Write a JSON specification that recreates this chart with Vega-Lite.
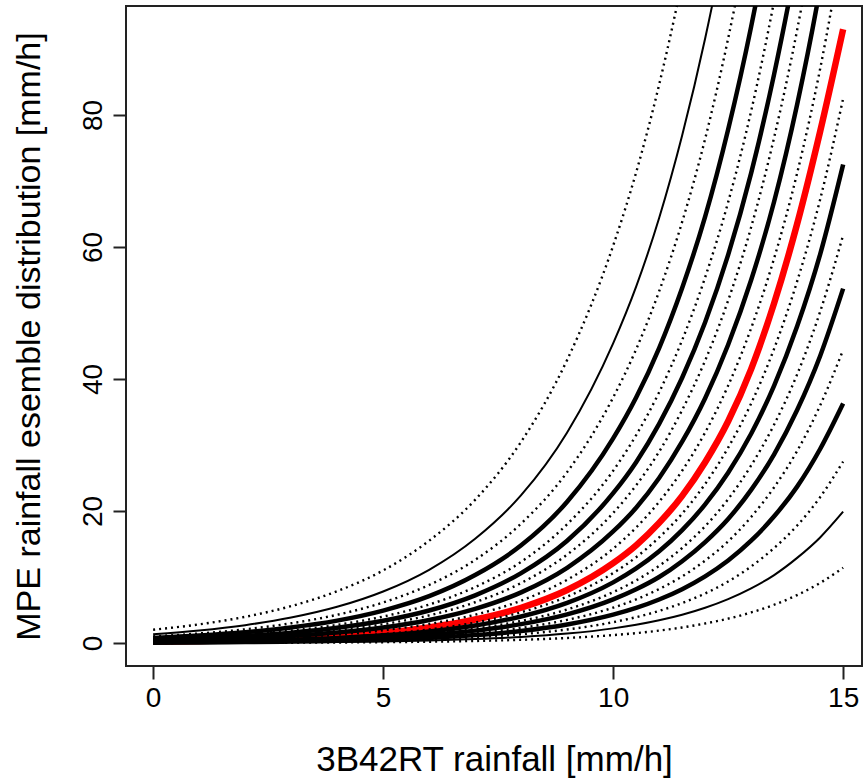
{
  "$schema": "https://vega.github.io/schema/vega-lite/v6.json",
  "width": 736,
  "height": 660,
  "autosize": {"type": "none"},
  "padding": {"left": 126, "top": 6, "right": 2, "bottom": 114},
  "background": "white",
  "config": {"view": {"stroke": "#222", "strokeWidth": 2}, "font": "Liberation Sans"},
  "data": {"values": [
    {"x": 0, "T9": 2.02, "T8": 1.34, "T7": 1.01, "T6": 0.78, "T5": 0.61, "T4": 0.50, "T3": 0.41, "T2": 0.33, "T1": 0.26, "M": 0.20, "B1": 0.175, "B2": 0.148, "B3": 0.120, "B4": 0.100, "B5": 0.078, "B6": 0.060, "B7": 0.042, "B8": 0.028, "B9": 0.013},
    {"x": 1, "T9": 2.83, "T8": 1.91, "T7": 1.45, "T6": 1.13, "T5": 0.89, "T4": 0.73, "T3": 0.61, "T2": 0.49, "T1": 0.39, "M": 0.31, "B1": 0.264, "B2": 0.223, "B3": 0.182, "B4": 0.152, "B5": 0.119, "B6": 0.092, "B7": 0.065, "B8": 0.043, "B9": 0.021},
    {"x": 2, "T9": 3.97, "T8": 2.71, "T7": 2.08, "T6": 1.63, "T5": 1.30, "T4": 1.07, "T3": 0.89, "T2": 0.72, "T1": 0.58, "M": 0.46, "B1": 0.398, "B2": 0.338, "B3": 0.276, "B4": 0.231, "B5": 0.182, "B6": 0.142, "B7": 0.099, "B8": 0.066, "B9": 0.033},
    {"x": 3, "T9": 5.59, "T8": 3.86, "T7": 2.99, "T6": 2.36, "T5": 1.89, "T4": 1.57, "T3": 1.31, "T2": 1.07, "T1": 0.87, "M": 0.70, "B1": 0.600, "B2": 0.510, "B3": 0.419, "B4": 0.352, "B5": 0.278, "B6": 0.217, "B7": 0.153, "B8": 0.103, "B9": 0.051},
    {"x": 4, "T9": 7.85, "T8": 5.49, "T7": 4.28, "T6": 3.40, "T5": 2.75, "T4": 2.30, "T3": 1.93, "T2": 1.59, "T1": 1.29, "M": 1.05, "B1": 0.904, "B2": 0.771, "B3": 0.635, "B4": 0.535, "B5": 0.424, "B6": 0.332, "B7": 0.236, "B8": 0.160, "B9": 0.081},
    {"x": 5, "T9": 11.0, "T8": 7.81, "T7": 6.14, "T6": 4.92, "T5": 4.01, "T4": 3.37, "T3": 2.85, "T2": 2.35, "T1": 1.93, "M": 1.57, "B1": 1.36, "B2": 1.17, "B3": 0.961, "B4": 0.813, "B5": 0.647, "B6": 0.509, "B7": 0.364, "B8": 0.248, "B9": 0.127},
    {"x": 6, "T9": 15.5, "T8": 11.1, "T7": 8.80, "T6": 7.10, "T5": 5.83, "T4": 4.93, "T3": 4.19, "T2": 3.49, "T1": 2.89, "M": 2.37, "B1": 2.05, "B2": 1.76, "B3": 1.46, "B4": 1.24, "B5": 0.988, "B6": 0.780, "B7": 0.561, "B8": 0.385, "B9": 0.199},
    {"x": 7, "T9": 21.7, "T8": 15.8, "T7": 12.6, "T6": 10.3, "T5": 8.48, "T4": 7.23, "T3": 6.18, "T2": 5.18, "T1": 4.30, "M": 3.56, "B1": 3.10, "B2": 2.66, "B3": 2.21, "B4": 1.88, "B5": 1.51, "B6": 1.20, "B7": 0.864, "B8": 0.596, "B9": 0.311},
    {"x": 8, "T9": 30.5, "T8": 22.4, "T7": 18.1, "T6": 14.8, "T5": 12.3, "T4": 10.6, "T3": 9.10, "T2": 7.68, "T1": 6.42, "M": 5.35, "B1": 4.66, "B2": 4.02, "B3": 3.35, "B4": 2.86, "B5": 2.30, "B6": 1.83, "B7": 1.33, "B8": 0.923, "B9": 0.488},
    {"x": 9, "T9": 42.9, "T8": 31.9, "T7": 25.9, "T6": 21.4, "T5": 18.0, "T4": 15.5, "T3": 13.4, "T2": 11.4, "T1": 9.59, "M": 8.04, "B1": 7.03, "B2": 6.08, "B3": 5.08, "B4": 4.34, "B5": 3.51, "B6": 2.81, "B7": 2.05, "B8": 1.43, "B9": 0.766},
    {"x": 10, "T9": 60.2, "T8": 45.4, "T7": 37.2, "T6": 31.0, "T5": 26.1, "T4": 22.7, "T3": 19.7, "T2": 16.9, "T1": 14.3, "M": 12.1, "B1": 10.6, "B2": 9.19, "B3": 7.71, "B4": 6.61, "B5": 5.36, "B6": 4.30, "B7": 3.16, "B8": 2.22, "B9": 1.20},
    {"x": 10.5, "T9": 71.3, "T8": 54.0, "T7": 44.5, "T6": 37.2, "T5": 31.5, "T4": 27.4, "T3": 23.9, "T2": 20.5, "T1": 17.5, "M": 14.8, "B1": 13.0, "B2": 11.3, "B3": 9.49, "B4": 8.14, "B5": 6.62, "B6": 5.32, "B7": 3.92, "B8": 2.77, "B9": 1.50},
    {"x": 11, "T9": 84.6, "T8": 64.4, "T7": 53.3, "T6": 44.7, "T5": 38.0, "T4": 33.2, "T3": 29.0, "T2": 25.0, "T1": 21.4, "M": 18.2, "B1": 16.0, "B2": 13.9, "B3": 11.7, "B4": 10.0, "B5": 8.18, "B6": 6.59, "B7": 4.87, "B8": 3.45, "B9": 1.88},
    {"x": 11.5, "T9": 100.4, "T8": 76.9, "T7": 63.8, "T6": 53.8, "T5": 45.9, "T4": 40.2, "T3": 35.3, "T2": 30.5, "T1": 26.1, "M": 22.3, "B1": 19.6, "B2": 17.1, "B3": 14.4, "B4": 12.4, "B5": 10.1, "B6": 8.16, "B7": 6.05, "B8": 4.29, "B9": 2.36},
    {"x": 12, "T9": 119, "T8": 91.6, "T7": 76.4, "T6": 64.6, "T5": 55.4, "T4": 48.6, "T3": 42.8, "T2": 37.1, "T1": 31.9, "M": 27.4, "B1": 24.1, "B2": 21.0, "B3": 17.7, "B4": 15.3, "B5": 12.5, "B6": 10.1, "B7": 7.51, "B8": 5.35, "B9": 2.96},
    {"x": 12.5, "T9": 141, "T8": 109, "T7": 91.6, "T6": 77.8, "T5": 66.8, "T4": 58.8, "T3": 51.9, "T2": 45.2, "T1": 39.0, "M": 33.6, "B1": 29.6, "B2": 25.8, "B3": 21.8, "B4": 18.8, "B5": 15.4, "B6": 12.5, "B7": 9.32, "B8": 6.66, "B9": 3.70},
    {"x": 13, "T9": 167, "T8": 130, "T7": 109.5, "T6": 93.4, "T5": 80.6, "T4": 71.2, "T3": 63.0, "T2": 55.0, "T1": 47.7, "M": 41.5, "B1": 36.3, "B2": 31.7, "B3": 26.9, "B4": 23.2, "B5": 19.1, "B6": 15.5, "B7": 11.6, "B8": 8.29, "B9": 4.63},
    {"x": 13.5, "T9": 198, "T8": 155, "T7": 131, "T6": 112, "T5": 97.3, "T4": 86.2, "T3": 76.6, "T2": 66.9, "T1": 58.3, "M": 51.5, "B1": 44.6, "B2": 39.0, "B3": 33.1, "B4": 28.6, "B5": 23.6, "B6": 19.2, "B7": 14.4, "B8": 10.3, "B9": 5.80},
    {"x": 14, "T9": 234, "T8": 185, "T7": 157, "T6": 135, "T5": 117, "T4": 104, "T3": 92.9, "T2": 81.6, "T1": 71.2, "M": 63.5, "B1": 54.8, "B2": 48.0, "B3": 40.7, "B4": 35.3, "B5": 29.1, "B6": 23.7, "B7": 17.8, "B8": 12.9, "B9": 7.27},
    {"x": 14.5, "T9": 278, "T8": 221, "T7": 188, "T6": 162, "T5": 141, "T4": 126, "T3": 112.6, "T2": 99.3, "T1": 87.0, "M": 77.5, "B1": 67.2, "B2": 58.9, "B3": 50.2, "B4": 43.5, "B5": 36.0, "B6": 29.4, "B7": 22.1, "B8": 16.0, "B9": 9.11},
    {"x": 15, "T9": 329, "T8": 263, "T7": 225, "T6": 195, "T5": 171, "T4": 153, "T3": 136.7, "T2": 120.9, "T1": 106.3, "M": 93.0, "B1": 82.5, "B2": 72.5, "B3": 61.8, "B4": 53.7, "B5": 44.4, "B6": 36.3, "B7": 27.5, "B8": 19.9, "B9": 11.4}
  ]},
  "transform": [
    {"fold": ["T9", "T8", "T7", "T6", "T5", "T4", "T3", "T2", "T1", "M", "B1", "B2", "B3", "B4", "B5", "B6", "B7", "B8", "B9"], "as": ["curve", "y"]}
  ],
  "encoding": {
    "x": {
      "field": "x", "type": "quantitative",
      "scale": {"domain": [-0.59, 15.41], "nice": false, "zero": false},
      "axis": {
        "values": [0, 5, 10, 15], "title": "3B42RT rainfall [mm/h]", "grid": false, "domain": false,
        "tickSize": 13, "tickWidth": 2, "tickColor": "#222",
        "labelFontSize": 28, "labelColor": "#000", "labelPadding": 5, "labelFont": "Liberation Sans",
        "titleFontSize": 35, "titleFontWeight": "normal", "titleColor": "#000", "titleFont": "Liberation Sans",
        "titleX": 368, "titleY": 93, "titleAlign": "center", "titleBaseline": "middle"
      }
    },
    "y": {
      "field": "y", "type": "quantitative",
      "scale": {"domain": [-3.48, 96.52], "nice": false, "zero": false},
      "axis": {
        "values": [0, 20, 40, 60, 80], "title": "MPE rainfall esemble distribution [mm/h]", "grid": false, "domain": false,
        "tickSize": 13, "tickWidth": 2, "tickColor": "#222",
        "labelFontSize": 28, "labelColor": "#000", "labelPadding": 12, "labelAngle": 270, "labelAlign": "center", "labelBaseline": "alphabetic", "labelFont": "Liberation Sans",
        "titleFontSize": 34, "titleFontWeight": "normal", "titleColor": "#000", "titleFont": "Liberation Sans",
        "titleX": -97, "titleY": 330, "titleAngle": 270, "titleAlign": "center", "titleBaseline": "middle"
      }
    },
    "detail": {"field": "curve"}
  },
  "layer": [
    {"transform": [{"filter": {"field": "curve", "equal": "M"}}],
     "mark": {"type": "line", "color": "#ff0000", "strokeWidth": 6.5, "clip": true, "interpolate": "monotone"}},
    {"transform": [{"filter": {"field": "curve", "oneOf": ["T8", "B8"]}}],
     "mark": {"type": "line", "color": "#000", "strokeWidth": 2, "clip": true, "interpolate": "monotone"}},
    {"transform": [{"filter": {"field": "curve", "oneOf": ["T6", "T4", "T2", "B2", "B4", "B6"]}}],
     "mark": {"type": "line", "color": "#000", "strokeWidth": 4.5, "clip": true, "interpolate": "monotone"}},
    {"transform": [{"filter": {"field": "curve", "oneOf": ["T9", "T7", "T5", "T3", "T1", "B1", "B3", "B5", "B7", "B9"]}}],
     "mark": {"type": "line", "color": "#000", "strokeWidth": 2.4, "strokeDash": [2, 4], "clip": true, "interpolate": "monotone"}}
  ]
}
